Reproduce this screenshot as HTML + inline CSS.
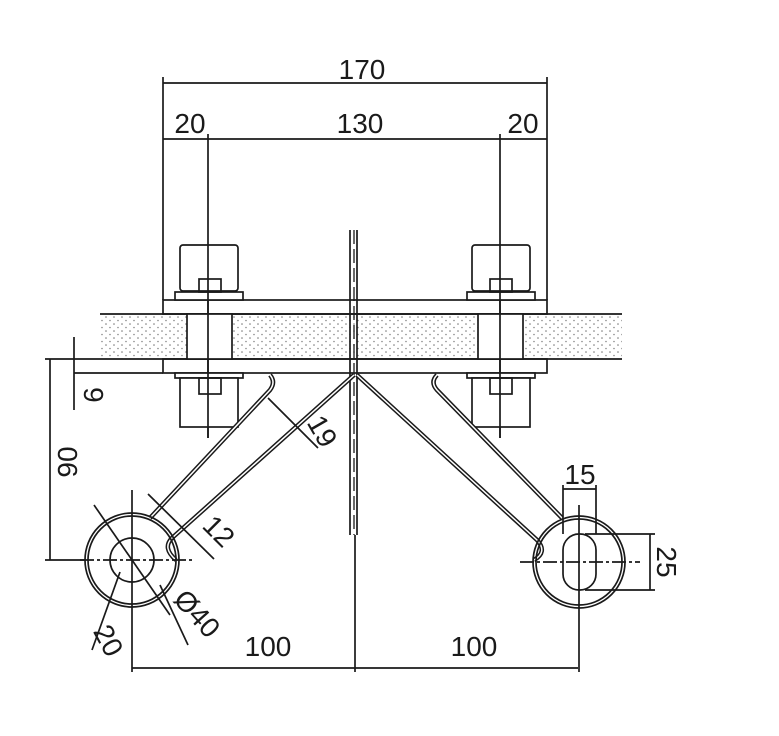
<!DOCTYPE html>
<html><head><meta charset="utf-8"><style>
html,body{margin:0;padding:0;background:#fff;}
svg{display:block;}
text{font-family:"Liberation Sans",sans-serif;font-size:28px;fill:#1a1a1a;}
</style></head><body>
<svg width="779" height="736" viewBox="0 0 779 736" xmlns="http://www.w3.org/2000/svg">
<defs>
<pattern id="dots" width="8" height="7" patternUnits="userSpaceOnUse">
<rect width="8" height="7" fill="#fff"/>
<circle cx="2" cy="2" r="0.8" fill="#777"/><circle cx="6" cy="5.5" r="0.8" fill="#888"/>
</pattern>
</defs>
<g stroke="#1a1a1a" fill="none" stroke-width="1.7">
<line x1="163" y1="83" x2="547" y2="83"/>
<line x1="163" y1="77" x2="163" y2="300"/>
<line x1="547" y1="77" x2="547" y2="300"/>
<line x1="163" y1="139" x2="547" y2="139"/>
<line x1="208" y1="134" x2="208" y2="438"/>
<line x1="500" y1="134" x2="500" y2="438"/>
<rect x="100" y="314" width="522" height="45" fill="url(#dots)" stroke="none"/>
<line x1="100" y1="314" x2="622" y2="314"/>
<line x1="45" y1="359" x2="622" y2="359"/>
<rect x="163" y="300" width="384" height="14"/>
<rect x="163" y="359" width="384" height="14"/>
<rect x="187" y="314" width="45" height="45" fill="#fff"/>
<rect x="478" y="314" width="45" height="45" fill="#fff"/>
<rect x="180" y="245" width="58" height="46" rx="3" fill="#fff"/>
<rect x="175" y="292" width="68" height="8" fill="#fff"/>
<rect x="199" y="279" width="22" height="13"/>
<rect x="175" y="373" width="68" height="5" fill="#fff"/>
<rect x="180" y="378" width="58" height="49" fill="#fff"/>
<rect x="199" y="378" width="22" height="16"/>
<rect x="472" y="245" width="58" height="46" rx="3" fill="#fff"/>
<rect x="467" y="292" width="68" height="8" fill="#fff"/>
<rect x="490" y="279" width="22" height="13"/>
<rect x="467" y="373" width="68" height="5" fill="#fff"/>
<rect x="472" y="378" width="58" height="49" fill="#fff"/>
<rect x="490" y="378" width="22" height="16"/>
<line x1="208" y1="245" x2="208" y2="438"/>
<line x1="500" y1="245" x2="500" y2="438"/>
<line x1="350" y1="230" x2="350" y2="535"/>
<line x1="357" y1="230" x2="357" y2="535"/>
<line x1="354" y1="230" x2="354" y2="535" stroke-dasharray="14 5" stroke-width="1.3"/>
<line x1="355" y1="535" x2="355" y2="672"/>
<path d="M270 375 Q276 382 270 390 L150 518" stroke-width="4.5"/>
<path d="M270 375 Q276 382 270 390 L150 518" stroke="#fff" stroke-width="1.5"/>
<path d="M354 375 L172 538 Q162 548 176 560" stroke-width="4.5"/>
<path d="M354 375 L172 538 Q162 548 176 560" stroke="#fff" stroke-width="1.5"/>
<circle cx="132" cy="560" r="47"/><circle cx="132" cy="560" r="44"/>
<circle cx="132" cy="560" r="22"/>
<line x1="80" y1="560" x2="195" y2="560" stroke-dasharray="14 3 3 3"/>
<line x1="132" y1="490" x2="132" y2="672"/>
<path d="M437 375 Q430 382 437 390 L562 518" stroke-width="4.5"/>
<path d="M437 375 Q430 382 437 390 L562 518" stroke="#fff" stroke-width="1.5"/>
<path d="M357 375 L537 540 Q548 552 534 560" stroke-width="4.5"/>
<path d="M357 375 L537 540 Q548 552 534 560" stroke="#fff" stroke-width="1.5"/>
<circle cx="579" cy="562" r="46"/><circle cx="579" cy="562" r="43"/>
<rect x="563" y="534" width="33" height="56" rx="16" fill="#fff"/>
<line x1="520" y1="562" x2="640" y2="562" stroke-dasharray="14 3 3 3"/>
<line x1="579" y1="505" x2="579" y2="672"/>
<line x1="563" y1="485" x2="563" y2="534"/>
<line x1="596" y1="485" x2="596" y2="534"/>
<line x1="563" y1="489" x2="596" y2="489"/>
<line x1="585" y1="534" x2="655" y2="534"/>
<line x1="585" y1="590" x2="655" y2="590"/>
<line x1="650" y1="534" x2="650" y2="590"/>
<line x1="132" y1="668" x2="578" y2="668"/>
<line x1="50" y1="359" x2="50" y2="560"/>
<line x1="45" y1="560" x2="85" y2="560"/>
<line x1="74" y1="337" x2="74" y2="410"/>
<line x1="74" y1="373" x2="163" y2="373"/>
<line x1="268" y1="398" x2="318" y2="448"/>
<line x1="148" y1="494" x2="214" y2="559"/>
<line x1="160" y1="585" x2="188" y2="645"/>
<line x1="120" y1="572" x2="92" y2="650"/>
<line x1="94" y1="505" x2="170" y2="615"/>
</g>
<g>
<text x="362" y="79" text-anchor="middle">170</text>
<text x="190" y="133" text-anchor="middle">20</text>
<text x="360" y="133" text-anchor="middle">130</text>
<text x="523" y="133" text-anchor="middle">20</text>
<text x="580" y="484" text-anchor="middle">15</text>
<text x="268" y="656" text-anchor="middle">100</text>
<text x="474" y="656" text-anchor="middle">100</text>
<text transform="translate(657,562) rotate(90)" text-anchor="middle">25</text>
<text transform="translate(77,462) rotate(-90)" text-anchor="middle">90</text>
<text transform="translate(103,395) rotate(-90)" text-anchor="middle">6</text>
<text transform="translate(314,436) rotate(60)" text-anchor="middle">19</text>
<text transform="translate(212,538) rotate(45)" text-anchor="middle">12</text>
<text transform="translate(190,620) rotate(48)" text-anchor="middle">Ø40</text>
<text transform="translate(100,645) rotate(62)" text-anchor="middle">20</text>
</g>
</svg>
</body></html>
